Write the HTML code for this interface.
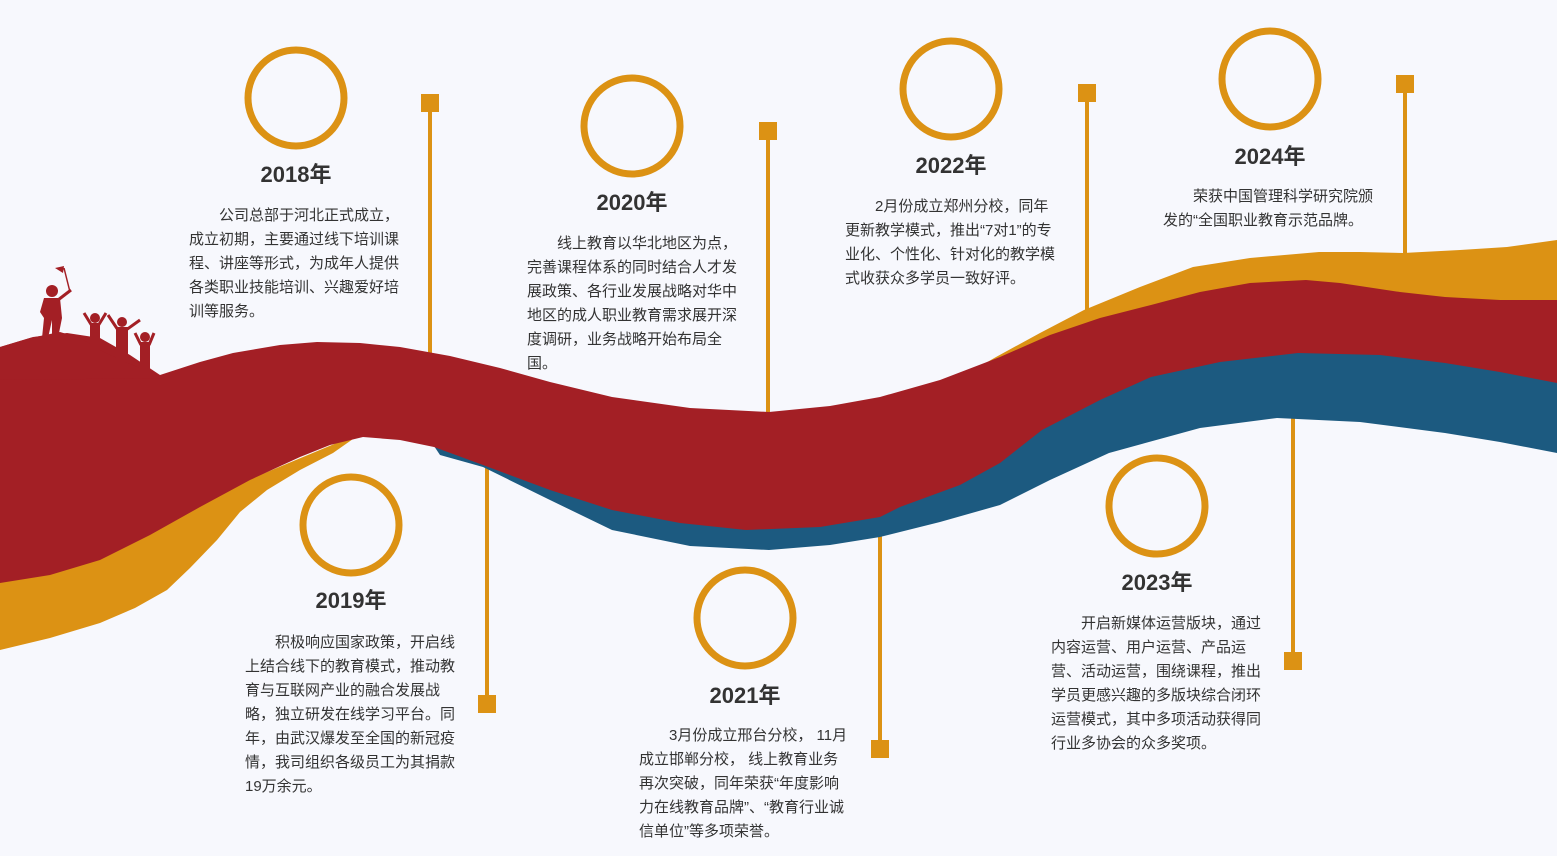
<!DOCTYPE html>
<html><head><meta charset="utf-8">
<style>
body{margin:0;width:1557px;height:856px;background:#f7f8fd;position:relative;overflow:hidden;font-family:"Liberation Sans","Noto Sans CJK SC",sans-serif;color:#333}
svg{position:absolute;left:0;top:0}
.t{position:absolute;font-weight:bold;font-size:22px;width:200px;margin-left:-100px;text-align:center;line-height:30px}
.p{position:absolute;font-size:15px;line-height:24px;white-space:nowrap}
.p div{height:24px}
.i{padding-left:30px}
</style></head><body>
<svg width="1557" height="856" viewBox="0 0 1557 856">
<g stroke="#dc9214" stroke-width="4">
<line x1="430" y1="103" x2="430" y2="360"/>
<line x1="768" y1="131" x2="768" y2="415"/>
<line x1="1087" y1="93" x2="1087" y2="320"/>
<line x1="1405" y1="84" x2="1405" y2="260"/>
<line x1="487" y1="450" x2="487" y2="704"/>
<line x1="880" y1="520" x2="880" y2="749"/>
<line x1="1293" y1="400" x2="1293" y2="661"/>
</g>
<g fill="#dc9214">
<rect x="421" y="94" width="18" height="18"/>
<rect x="759" y="122" width="18" height="18"/>
<rect x="1078" y="84" width="18" height="18"/>
<rect x="1396" y="75" width="18" height="18"/>
<rect x="478" y="695" width="18" height="18"/>
<rect x="871" y="740" width="18" height="18"/>
<rect x="1284" y="652" width="18" height="18"/>
</g>
<path fill="#dc9214" d="M0,570 L200,500 L363,432 L333,453 L300,470 L267,490 L240,512 L217,540 L190,568 L167,590 L135,608 L100,623 L50,638 L0,650 Z"/>
<path fill="#dc9214" d="M960,378 L996,357 L1040,333 L1084,310 L1140,287 L1193,267 L1250,258 L1319,252 L1360,252 L1403,253 L1460,250 L1507,247 L1557,240 L1557,330 L1000,400 Z"/>
<path fill="#1c5a80" d="M430,440 L600,500 L900,490 L1042,420 L1151,367 L1298,343 L1445,353 L1557,373 L1557,453 L1500,442 L1445,433 L1360,422 L1277,418 L1200,428 L1109,453 L1050,480 L1000,505 L940,522 L880,537 L830,545 L769,550 L690,546 L612,530 L550,500 L483,467 L440,455 Z"/>
<path fill="#a31f25" d="M0,347 L33,337 L67,333 L100,338 L130,355 L160,375 L200,362 L233,353 L280,345 L317,342 L360,343 L400,347 L450,356 L500,368 L550,382 L612,397 L690,408 L769,412 L830,406 L880,397 L940,380 L1000,357 L1050,335 L1100,318 L1151,305 L1200,292 L1250,283 L1306,280 L1340,283 L1400,292 L1445,297 L1500,300 L1557,300 L1557,383 L1500,372 L1445,363 L1380,355 L1298,353 L1220,362 L1151,377 L1100,400 L1042,430 L1000,463 L960,485 L900,507 L880,517 L820,527 L746,530 L680,523 L612,510 L550,490 L483,465 L434,447 L400,440 L363,437 L330,445 L300,457 L250,480 L200,507 L150,535 L100,560 L50,575 L0,583 Z"/>
<g fill="#a31f25" stroke="#a31f25">
<path stroke="none" d="M0,347 L30,338 L60,332 L80,338 L100,350 L125,362 L150,372 L165,378 L0,380 Z"/>
<circle cx="52" cy="291" r="6" stroke="none"/>
<path stroke="none" d="M44,298 L60,298 L62,318 L58,338 L52,338 L52,320 L48,338 L42,338 L44,318 L40,312 Z"/>
<line x1="58" y1="300" x2="71" y2="290" stroke-width="3"/>
<line x1="70" y1="292" x2="64" y2="268" stroke-width="1.5"/>
<path stroke="none" d="M55,268 L64,266 L63,273 Z"/>
<circle cx="95" cy="318" r="5" stroke="none"/>
<rect x="90" y="323" width="10" height="30" stroke="none"/>
<line x1="92" y1="326" x2="84" y2="313" stroke-width="3"/>
<line x1="98" y1="326" x2="106" y2="313" stroke-width="3"/>
<circle cx="122" cy="322" r="5" stroke="none"/>
<rect x="116" y="327" width="12" height="35" stroke="none"/>
<line x1="118" y1="330" x2="108" y2="315" stroke-width="3"/>
<line x1="126" y1="330" x2="140" y2="320" stroke-width="3"/>
<circle cx="145" cy="337" r="5" stroke="none"/>
<rect x="140" y="342" width="10" height="32" stroke="none"/>
<line x1="141" y1="345" x2="135" y2="333" stroke-width="3"/>
<line x1="149" y1="345" x2="154" y2="333" stroke-width="3"/>
</g>
<g fill="none" stroke="#dc9214" stroke-width="7">
<circle cx="296" cy="98" r="48"/>
<circle cx="632" cy="126" r="48"/>
<circle cx="951" cy="89" r="48"/>
<circle cx="1270" cy="79" r="48"/>
<circle cx="351" cy="525" r="48"/>
<circle cx="745" cy="618" r="48"/>
<circle cx="1157" cy="506" r="48"/>
</g>
</svg>

<div class="t" style="left:296px;top:160px">2018年</div>
<div class="t" style="left:632px;top:188px">2020年</div>
<div class="t" style="left:951px;top:151px">2022年</div>
<div class="t" style="left:1270px;top:142px">2024年</div>
<div class="t" style="left:351px;top:586px">2019年</div>
<div class="t" style="left:745px;top:681px">2021年</div>
<div class="t" style="left:1157px;top:568px">2023年</div>

<div class="p" style="left:189px;top:204px"><div class="i">公司总部于河北正式成立，</div><div>成立初期，主要通过线下培训课</div><div>程、讲座等形式，为成年人提供</div><div>各类职业技能培训、兴趣爱好培</div><div>训等服务。</div></div>
<div class="p" style="left:527px;top:232px"><div class="i">线上教育以华北地区为点，</div><div>完善课程体系的同时结合人才发</div><div>展政策、各行业发展战略对华中</div><div>地区的成人职业教育需求展开深</div><div>度调研，业务战略开始布局全</div><div>国。</div></div>
<div class="p" style="left:845px;top:195px"><div class="i">2月份成立郑州分校，同年</div><div>更新教学模式，推出“7对1”的专</div><div>业化、个性化、针对化的教学模</div><div>式收获众多学员一致好评。</div></div>
<div class="p" style="left:1163px;top:185px"><div class="i">荣获中国管理科学研究院颁</div><div>发的“全国职业教育示范品牌。</div></div>
<div class="p" style="left:245px;top:631px"><div class="i">积极响应国家政策，开启线</div><div>上结合线下的教育模式，推动教</div><div>育与互联网产业的融合发展战</div><div>略，独立研发在线学习平台。同</div><div>年，由武汉爆发至全国的新冠疫</div><div>情，我司组织各级员工为其捐款</div><div>19万余元。</div></div>
<div class="p" style="left:639px;top:724px"><div class="i">3月份成立邢台分校， 11月</div><div>成立邯郸分校， 线上教育业务</div><div>再次突破，同年荣获“年度影响</div><div>力在线教育品牌”、“教育行业诚</div><div>信单位”等多项荣誉。</div></div>
<div class="p" style="left:1051px;top:612px"><div class="i">开启新媒体运营版块，通过</div><div>内容运营、用户运营、产品运</div><div>营、活动运营，围绕课程，推出</div><div>学员更感兴趣的多版块综合闭环</div><div>运营模式，其中多项活动获得同</div><div>行业多协会的众多奖项。</div></div>
</body></html>
